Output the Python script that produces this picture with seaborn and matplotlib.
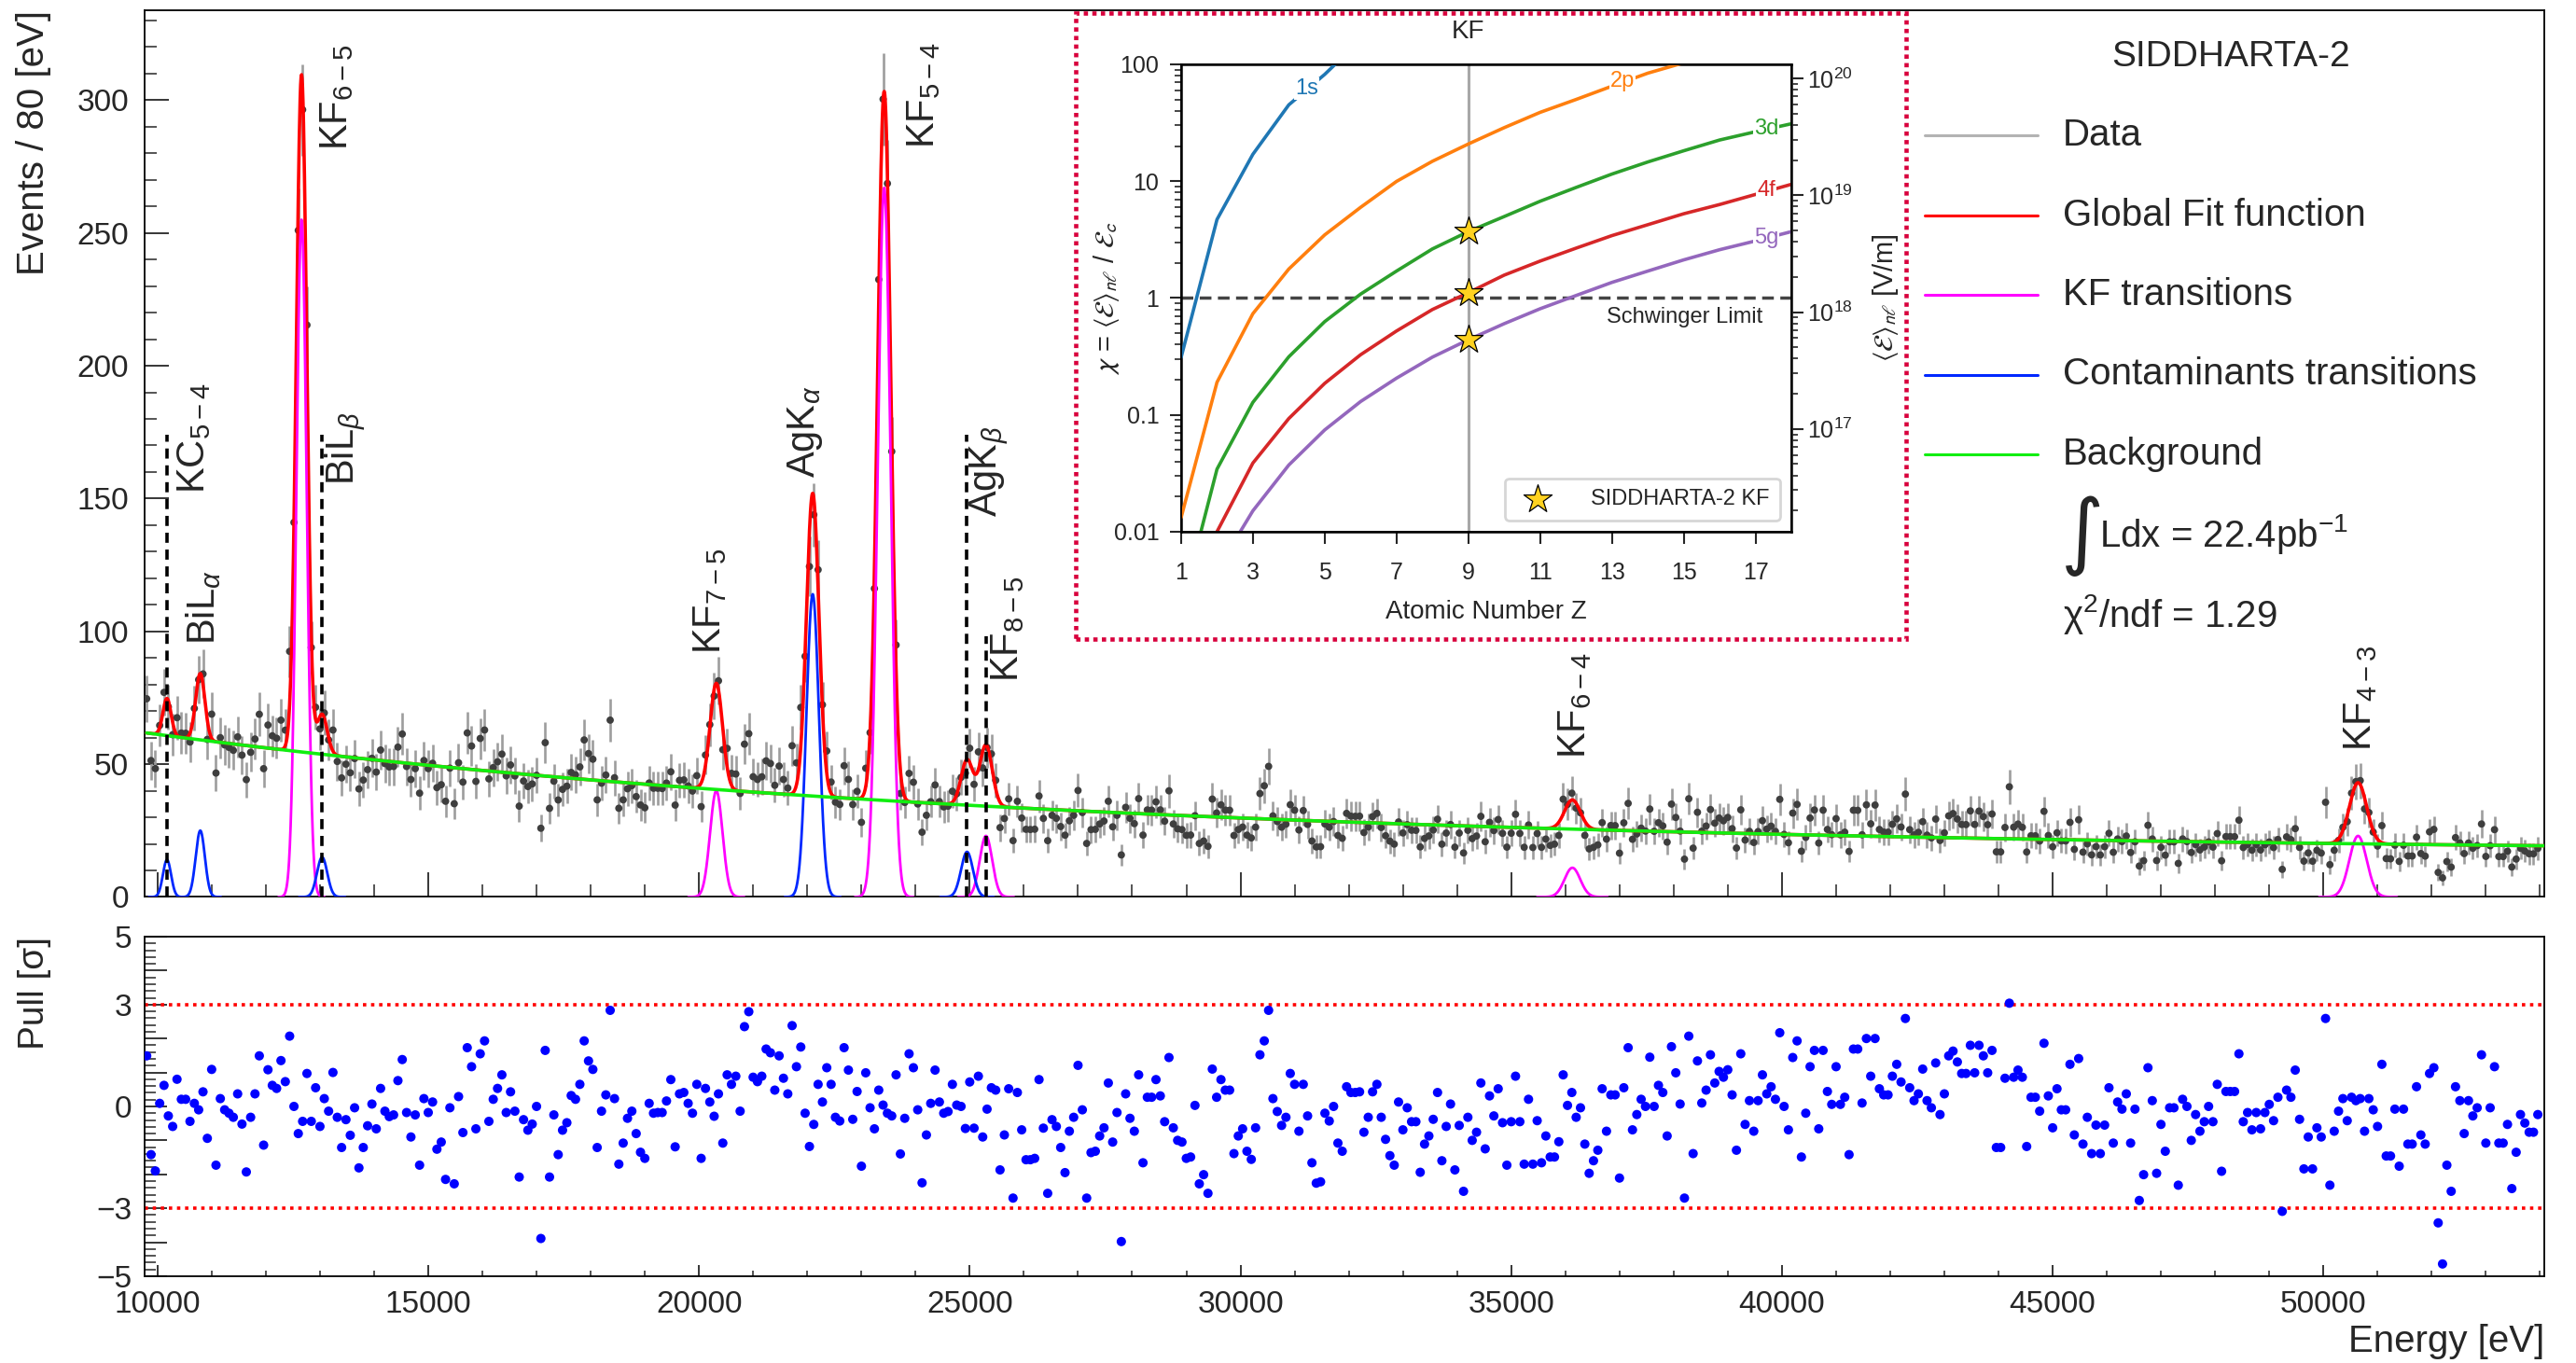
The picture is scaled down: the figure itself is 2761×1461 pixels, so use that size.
import numpy as np
import pandas as pd
import seaborn as sns
import matplotlib.pyplot as plt
from matplotlib.lines import Line2D
from matplotlib.patches import Rectangle
from matplotlib.ticker import MultipleLocator, FixedLocator, FuncFormatter, NullLocator

nan = np.nan

# spectrum binning: 80 eV bins
bin_start = 9760
bin_width = 80
x_max = 54080

# pull (data - fit)/error per bin
pulls = [
    1.49, -1.42, -1.90, 0.09, 0.62, -0.28, -0.59, 0.80, 0.21, 0.21,
    -0.44, 0.09, -0.10, 0.43, -0.94, 1.09, -1.73, 0.23, -0.10, -0.20,
    -0.32, 0.37, -0.52, -1.93, -0.32, 0.37, 1.49, -1.14, 1.08, 0.62,
    0.53, 1.35, 0.73, 2.07, 0.00, -0.80, -0.44, 0.97, -0.44, 0.55,
    -0.59, 0.23, -0.14, 1.00, -0.32, -1.21, -0.39, -0.85, -0.04, -1.81,
    -1.21, -0.57, 0.07, -0.66, 0.53, -0.14, -0.30, -0.25, 0.76, 1.38,
    -0.18, -0.90, -0.25, -1.73, 0.23, -0.18, 0.13, -1.26, -1.05, -2.15,
    -0.04, -2.28, 0.29, -0.77, 1.73, 1.17, -0.66, 1.55, 1.93, -0.44,
    0.21, 0.53, 0.93, -0.18, 0.43, -0.14, -2.08, -0.39, -0.70, -0.52,
    0.00, -3.89, 1.65, -2.08, -0.25, -1.42, -0.70, -0.48, 0.32, 0.21,
    0.65, 1.93, 1.34, 1.09, -1.21, -0.14, 0.34, 2.83, 0.23, -1.70,
    -1.08, -0.35, -0.14, -0.80, -1.35, -1.53, 0.09, -0.20, -0.18, -0.18,
    0.16, 0.79, -1.19, 0.37, 0.41, 0.09, -0.20, 0.65, -1.53, 0.53,
    0.13, -0.29, 0.37, -1.08, 0.93, 0.65, 0.89, -0.14, 2.35, 2.79,
    0.86, 0.73, 0.89, 1.69, 1.58, 0.48, 1.49, 0.83, 0.37, 2.38,
    1.17, 1.75, -0.20, -1.18, -0.53, 0.65, 0.13, 1.14, 0.65, -0.32,
    -0.43, 1.73, 1.07, -0.38, 0.44, -1.76, 0.99, -0.04, -0.66, 0.48,
    0.04, -0.20, -0.28, 0.93, -1.40, -0.35, 1.55, 1.14, -0.10, -2.25,
    -0.84, 0.09, 1.07, 0.13, -0.20, -0.15, 0.65, 0.04, 0.00, -0.65,
    0.72, -0.64, 0.89, -0.90, -0.08, 0.55, 0.48, -1.87, -0.84, 0.52,
    -2.70, 0.41, -0.69, -1.57, -1.57, -1.53, 0.79, -0.64, -2.56, -0.39,
    -0.59, -1.21, -1.95, -0.73, -0.32, 1.21, -0.10, -2.70, -1.36, -1.32,
    -0.87, -0.63, 0.69, -1.05, -0.18, -3.98, 0.37, -0.35, -0.73, 0.93,
    -1.66, 0.27, 0.27, 0.79, 0.31, -0.45, 1.44, -0.63, -1.00, -1.05,
    -1.53, -1.49, 0.03, -2.28, -2.01, -2.56, 1.10, 0.27, 0.79, 0.48,
    0.48, -1.39, -0.87, -0.66, -1.32, -1.56, -0.63, 1.52, 1.93, 2.83,
    0.23, -0.15, -0.56, -0.32, 0.97, 0.65, -0.73, 0.65, -0.28, -1.66,
    -2.26, -2.22, -0.20, -0.43, 0.00, -1.08, -1.32, 0.58, 0.41, 0.41,
    0.43, -0.76, -0.32, 0.43, 0.65, -0.32, -0.97, -1.45, -1.73, 0.13,
    -0.69, -0.04, -0.45, -0.45, -1.94, -1.11, -0.87, -0.38, 0.41, -1.60,
    -0.59, 0.07, -1.87, -0.56, -2.50, -0.32, -1.00, -0.76, 0.69, -1.25,
    0.31, -0.28, 0.52, -0.48, -1.73, -0.45, 0.89, -0.45, -1.70, 0.21,
    -1.70, -0.42, -1.66, -0.87, -1.49, -1.49, -1.04, 0.93, 0.03, 0.41,
    -0.32, -0.04, -1.11, -1.97, -1.60, -1.29, 0.52, -0.73, 0.34, 0.34,
    -2.11, 0.55, 1.73, -0.69, -0.24, 0.21, 0.00, 1.45, 0.00, 0.62,
    0.41, -0.87, 1.76, 0.99, 0.07, -2.70, 2.07, -1.39, 1.34, 0.10,
    0.48, 1.52, 0.69, 1.03, 0.86, 1.08, 0.34, -1.29, 1.55, -0.53,
    0.17, -0.73, 0.17, 0.93, 0.37, 0.58, 0.21, 2.17, 0.00, -0.69,
    1.44, 1.93, -1.49, -0.20, 1.17, 1.65, -0.66, 1.65, 0.44, 0.06,
    1.17, 0.06, 0.27, -1.42, 1.69, 1.69, 0.10, 2.00, 0.89, 2.00,
    0.52, 0.34, 0.34, 0.89, 1.24, 0.72, 2.59, 0.55, 0.17, 0.37,
    1.10, 0.17, -0.04, 1.28, -0.24, 0.37, 1.49, 1.63, 1.31, 0.97,
    0.97, 1.80, 0.99, 1.80, 1.49, 0.99, 1.65, -1.21, -1.21, 0.83,
    3.04, 0.86, 1.07, 0.86, -1.18, 0.27, 0.27, -0.14, 1.86, 0.31,
    -0.63, 0.52, -0.10, -0.10, 1.24, -0.84, 1.41, -1.11, -0.32, -1.39,
    -0.55, -1.39, -0.55, 0.55, -1.08, 0.13, -0.08, 0.37, -1.08, -0.08,
    -2.77, -2.01, 1.14, 0.17, -1.97, -0.53, -1.32, -0.04, -0.04, -2.32,
    0.21, 0.00, -1.00, -0.24, -0.73, -0.45, 0.00, -0.45, 0.65, -1.91,
    0.44, 0.44, 0.44, 1.55, -0.45, -0.18, -0.69, -0.18, -0.66, -0.18,
    0.06, -0.42, 0.27, -3.09, 0.48, 0.27, 1.07, -0.38, -1.84, -0.90,
    -1.84, -0.63, -0.90, 2.59, -2.32, -0.73, -0.14, 0.23, -0.42, 0.27,
    0.17, 0.23, -0.73, 0.23, -0.10, -0.59, 1.24, -1.46, -1.46, -0.08,
    -1.76, -0.08, -1.11, -1.11, 0.58, -0.84, -1.11, 0.97, 1.14, -3.43,
    -4.64, -1.73, -2.50, 0.58, 0.17, -0.80, 0.17, -0.28, -0.04, 1.52,
    -1.08, -0.04, 1.17, -1.08, -1.08, -0.53, -2.42, -1.35, -0.24, -0.49,
    -0.76, -0.76, -0.24,
]

# global fit: exponential background + gaussian lines
bkg_amp = 82.0
bkg_decay = 16800.0
bkg_const = 16.0

# KF transitions 6-5, 7-5, 5-4, 8-5, 6-4, 4-3
kf_energy = [12660, 20320, 23420, 25300, 36130, 50640]
kf_height = [255, 40, 267, 23, 11, 23]
kf_sigma = [95, 115, 120, 115, 145, 160]

# contaminants KC 5-4, Bi La, Bi Lb, Ag Ka, Ag Kb
cont_energy = [10175, 10790, 13040, 22100, 24950]
cont_height = [14, 25, 15, 114, 17]
cont_sigma = [75, 85, 95, 115, 110]

peak_labels = ["KC$_{5-4}$", r"BiL$_{\alpha}$", "KF$_{6-5}$", r"BiL$_{\beta}$", "KF$_{7-5}$",
               r"AgK$_{\alpha}$", "KF$_{5-4}$", r"AgK$_{\beta}$", "KF$_{8-5}$", "KF$_{6-4}$", "KF$_{4-3}$"]
label_x = [10671, 10853, 13312, 13464, 20204, 21965, 24150, 25365, 25700, 36173, 50685]
label_y = [152, 95, 281, 155, 91.5, 158, 282, 143, 81, 52, 55]
dashed_x = [cont_energy[0], cont_energy[2], cont_energy[4], kf_energy[3]]
dashed_top = [174, 174, 174, 98]

legend_labels = ["Data", "Global Fit function", "KF transitions", "Contaminants transitions", "Background"]

# inset: chi = <E>_nl / E_c versus Z
z_atomic = list(range(1, 19))
chi_1s = [0.31, 4.7, 17, 45, 82, 162] + [nan] * 12
chi_2p = [0.0132, 0.19, 0.735, 1.77, 3.47, 5.97, 9.95, 14.8, 20.8, 28.7, 38.8, 50, 65, 84, 103, 128, nan, nan]
chi_3d = [0.0022, 0.0343, 0.128, 0.314, 0.628, 1.08, 1.70, 2.63, 3.70, 4.98, 6.73, 8.83, 11.5, 14.6, 18.2, 22.5, 26.5, 31]
chi_4f = [0.0010, 0.0100, 0.0387, 0.093, 0.186, 0.327, 0.522, 0.797, 1.11, 1.57, 2.07, 2.67, 3.42, 4.24, 5.26, 6.31, 7.7, 9.4]
chi_5g = [nan, 0.0047, 0.0151, 0.0372, 0.0743, 0.130, 0.206, 0.312, 0.439, 0.603, 0.809, 1.05, 1.36, 1.70, 2.12, 2.59, 3.08, 3.7]
orbitals = ["1s", "2p", "3d", "4f", "5g"]
orbital_label_pos = [(4.5, 62), (13.3, 72), (17.3, 28), (17.3, 8.4), (17.3, 3.3)]
schwinger_field = 1.32e18
kf_z = 9
measured_orbitals = ["3d", "4f", "5g"]

sns.set_theme(style="ticks")
plt.rcParams["font.family"] = ["Liberation Sans", "DejaVu Sans"]
plt.rcParams["mathtext.fontset"] = "custom"
plt.rcParams["mathtext.rm"] = "Liberation Sans"
plt.rcParams["mathtext.it"] = "Liberation Sans:italic"
plt.rcParams["mathtext.bf"] = "Liberation Sans:bold"
plt.rcParams["axes.edgecolor"] = "black"
plt.rcParams["axes.linewidth"] = 1.3


def gauss(x, mu, h, s):
    return h * np.exp(-0.5 * ((x - mu) / s) ** 2)


def background(x):
    return bkg_amp * np.exp(-x / bkg_decay) + bkg_const


def global_fit(x):
    y = background(x)
    for mu, h, s in zip(kf_energy + cont_energy, kf_height + cont_height, kf_sigma + cont_sigma):
        y = y + gauss(x, mu, h, s)
    return y


energy = bin_start + bin_width * (np.arange(len(pulls)) + 0.5)
pull = np.array(pulls)
fit_bins = global_fit(energy)
counts = ((pull + np.sqrt(pull ** 2 + 4 * fit_bins)) / 2) ** 2
spec = pd.DataFrame({"energy": energy, "counts": counts, "err": np.sqrt(counts), "pull": pull})

col_data = "#3e3e3e"
col_err = "#9d9d9d"
col_fit = "#ff0000"
col_kf = "#ff00ff"
col_cont = "#0028ff"
col_bkg = "#11ee11"

fig = plt.figure(figsize=(27.61, 14.61), dpi=100)
ax = fig.add_axes([0.0561, 0.3419, 0.9316, 0.6509])
axp = fig.add_axes([0.0561, 0.0637, 0.9316, 0.2491])

# ---- spectrum ----
ax.errorbar(spec["energy"], spec["counts"], yerr=spec["err"], fmt="none",
            ecolor=col_err, elinewidth=1.9, zorder=2)
sns.scatterplot(data=spec, x="energy", y="counts", color=col_data, s=32,
                edgecolor="none", linewidth=0, ax=ax, zorder=3)

grid = np.linspace(bin_start + 40, x_max, 5000)
sns.lineplot(x=grid, y=global_fit(grid), color=col_fit, lw=2.6, estimator=None, ax=ax, zorder=4)
sns.lineplot(x=grid, y=background(grid), color=col_bkg, lw=2.6, estimator=None, ax=ax, zorder=5)
for mu, h, s in zip(kf_energy, kf_height, kf_sigma):
    g = np.linspace(mu - 4.5 * s, mu + 4.5 * s, 300)
    sns.lineplot(x=g, y=gauss(g, mu, h, s), color=col_kf, lw=2.0, estimator=None, ax=ax, zorder=4)
for mu, h, s in zip(cont_energy, cont_height, cont_sigma):
    g = np.linspace(mu - 4.5 * s, mu + 4.5 * s, 300)
    sns.lineplot(x=g, y=gauss(g, mu, h, s), color=col_cont, lw=2.0, estimator=None, ax=ax, zorder=4)

ax.vlines(dashed_x, 0, dashed_top, colors="black", linestyles=(0, (3, 2)), lw=2.6, zorder=6)
for txt, x0, y0 in zip(peak_labels, label_x, label_y):
    ax.text(x0, y0, txt, rotation=90, ha="center", va="bottom", fontsize=30, zorder=7)

ax.set_xlim(bin_start, x_max)
ax.set_ylim(0, 334)
ax.xaxis.set_major_locator(MultipleLocator(5000))
ax.xaxis.set_minor_locator(MultipleLocator(1000))
ax.yaxis.set_major_locator(MultipleLocator(50))
ax.yaxis.set_minor_locator(MultipleLocator(10))
ax.tick_params(which="major", direction="in", length=19, width=1.3, labelsize=24, pad=12)
ax.tick_params(which="minor", direction="in", length=9.5, width=1.1)
ax.tick_params(axis="x", labelbottom=False)
ax.set_xlabel("")
ax.set_ylabel("Events / 80 [eV]", fontsize=29, loc="top")
ax.yaxis.set_label_coords(-0.039, 1.0)

# ---- legend (drawn by hand, ROOT style) ----
fig.text(0.866, 1 - 61 / 1461, "SIDDHARTA-2", fontsize=28, ha="center", va="center")
legend_colors = ["#b3b3b3", col_fit, col_kf, col_cont, col_bkg]
for i, (lab, col) in enumerate(zip(legend_labels, legend_colors)):
    yf = 1 - (145 + 85.5 * i) / 1461
    fig.add_artist(Line2D([0.7472, 0.7910], [yf, yf], color=col, lw=2.2))
    fig.text(0.8008, yf, lab, fontsize=29, ha="left", va="center")
fig.text(0.8000, 1 - 574 / 1461, "\u222b", fontsize=64, ha="left", va="center",
         family=["DejaVu Sans"])
fig.text(0.8150, 1 - 573 / 1461, "Ldx = 22.4pb$^{-1}$", fontsize=29, ha="left", va="center")
fig.text(0.8008, 1 - 658 / 1461, "\u03c7$^{2}$/ndf = 1.29", fontsize=29, ha="left", va="center")

# ---- pulls ----
sns.scatterplot(data=spec, x="energy", y="pull", color="#0000ff", s=52,
                edgecolor="none", linewidth=0, ax=axp, zorder=3)
for lvl in (3, -3):
    axp.axhline(lvl, color="#ff0000", ls=(0, (1, 1.4)), lw=2.6, zorder=2)
axp.set_xlim(bin_start, x_max)
axp.set_ylim(-5, 5)
axp.xaxis.set_major_locator(MultipleLocator(5000))
axp.xaxis.set_minor_locator(MultipleLocator(1000))
axp.yaxis.set_major_locator(FixedLocator(range(-5, 6)))
axp.yaxis.set_major_formatter(FuncFormatter(
    lambda v, p: f"{int(v)}".replace("-", "\u2212") if int(v) in (-5, -3, 0, 3, 5) else ""))
axp.yaxis.set_minor_locator(MultipleLocator(0.2))
axp.tick_params(axis="x", which="major", direction="in", length=8.6, width=1.3, labelsize=24, pad=11)
axp.tick_params(axis="x", which="minor", direction="in", length=4.5, width=1.1)
axp.tick_params(axis="y", which="major", direction="in", length=17, width=1.3, labelsize=24, pad=10)
axp.tick_params(axis="y", which="minor", direction="in", length=8.5, width=1.1)
axp.set_ylabel("Pull [\u03c3]", fontsize=28, loc="top")
axp.yaxis.set_label_coords(-0.039, 1.0)
axp.set_xlabel("Energy [eV]", fontsize=29, loc="right")
axp.xaxis.set_label_coords(1.0, -0.14)

# ---- inset ----
fig.add_artist(Rectangle((0.4176, 0.5311), 0.3224, 0.4593, transform=fig.transFigure,
                         facecolor="white", edgecolor="#d8003c", lw=3.3, ls=(0, (1, 1)), zorder=1))

axin = fig.add_axes([0.4585, 0.6099, 0.2369, 0.3429], zorder=3)
orb_df = pd.DataFrame({
    "Z": z_atomic * len(orbitals),
    "chi": chi_1s + chi_2p + chi_3d + chi_4f + chi_5g,
    "orbital": np.repeat(orbitals, len(z_atomic)),
})
orb_colors = dict(zip(orbitals, sns.color_palette("tab10", 5)))
axin.axvline(kf_z, color="#a8a8a8", lw=2.2, zorder=1)
axin.axhline(1, color="#444444", ls=(0, (3.6, 2)), lw=2.5, zorder=2)
sns.lineplot(data=orb_df.dropna(), x="Z", y="chi", hue="orbital", palette=orb_colors,
             estimator=None, lw=2.6, legend=False, ax=axin, zorder=3)
for orb, (zx, cy) in zip(orbitals, orbital_label_pos):
    axin.text(zx, cy, orb, color=orb_colors[orb], fontsize=17, ha="center", va="center", zorder=4,
              bbox=dict(facecolor="white", edgecolor="none", pad=0.6))
stars = orb_df[(orb_df["Z"] == kf_z) & orb_df["orbital"].isin(measured_orbitals)]
sns.scatterplot(data=stars, x="Z", y="chi", marker="*", s=520, color="#ffd21f",
                edgecolor="black", linewidth=0.9, ax=axin, zorder=6, label="SIDDHARTA-2 KF")
axin.set_yscale("log")
axin.set_xlim(1, 18)
axin.set_ylim(0.01, 100)
axin.set_xticks(range(1, 18, 2))
axin.xaxis.set_minor_locator(NullLocator())
axin.set_yticks([0.01, 0.1, 1, 10, 100])
axin.set_yticklabels(["0.01", "0.1", "1", "10", "100"])
axin.tick_params(which="major", direction="out", length=9, width=1.5, labelsize=18)
axin.tick_params(which="minor", direction="out", length=5, width=1.2)
axin.tick_params(axis="x", pad=14)
axin.tick_params(axis="y", pad=8)
for sp in axin.spines.values():
    sp.set_linewidth(1.8)
axin.set_xlabel("Atomic Number Z", fontsize=20, labelpad=12)
axin.set_ylabel(r"$\chi$ = $\langle\mathcal{E}\rangle_{n\ell}$ / $\mathcal{E}_c$", fontsize=21,
                math_fontfamily="stixsans")
axin.yaxis.set_label_coords(-0.098, 0.5)
axin.text(kf_z, 190, "KF", fontsize=20, ha="center", va="center", clip_on=False)
axin.text(17.2, 0.69, "Schwinger Limit", fontsize=17, ha="right", va="center")
leg = axin.legend(loc="lower right", fontsize=17, frameon=True, fancybox=True,
                  edgecolor="#cccccc", handletextpad=1.4, borderpad=0.5)
leg.get_frame().set_linewidth(2)

axr = axin.twinx()
axr.set_zorder(4)
axr.set_yscale("log")
axr.set_ylim(0.01 * schwinger_field, 100 * schwinger_field)
axr.tick_params(which="major", direction="out", length=9, width=1.5, labelsize=18)
axr.tick_params(which="minor", direction="out", length=5, width=1.2)
axr.set_ylabel(r"$\langle\mathcal{E}\rangle_{n\ell}$ [V/m]", fontsize=21, math_fontfamily="stixsans")
axr.yaxis.set_label_coords(1.13, 0.5)

fig.savefig("out.png", dpi=100)
